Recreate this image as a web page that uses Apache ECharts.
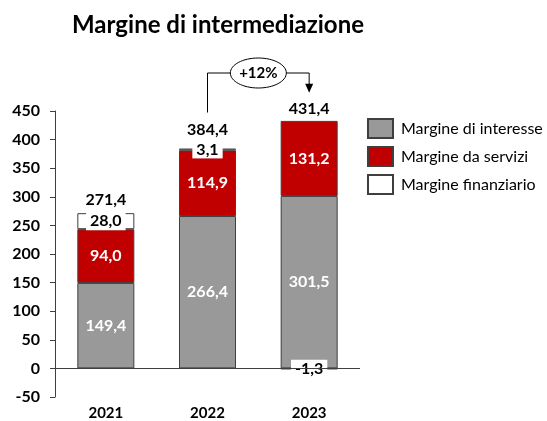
<!DOCTYPE html>
<html>
<head>
<meta charset="utf-8">
<script src="https://cdn.jsdelivr.net/npm/echarts@6/dist/echarts.min.js"></script>
<style>
  html, body { margin: 0; padding: 0; background: #fff; }
  #chart { width: 547px; height: 421px; }
</style>
</head>
<body>
<div id="chart"></div>
<script>
  // dati
  const years = ['2021', '2022', '2023']
  const interesse = [149.4, 266.4, 301.5]
  const servizi = [94.0, 114.9, 131.2]
  const finanziario = [28.0, 3.1, -1.3]
  const totali = [271.4, 384.4, 431.4]
  const crescita = '+12%'

  const fmt = v => v.toFixed(1).replace('.', ',')
  const font = 'Lato'
  const border = '#3f3f3f'

  const myChart = echarts.init(document.getElementById('chart'))

  const barLabel = {
    show: true,
    position: 'inside',
    formatter: p => fmt(p.value),
    color: '#fff',
    fontFamily: font,
    fontSize: 16,
    fontWeight: 'bold'
  }

  const option = {
    animation: false,
    textStyle: { fontFamily: font },
    title: {
      text: 'Margine di intermediazione',
      left: 213,
      textAlign: 'center',
      top: 8,
      textStyle: { fontFamily: font, fontSize: 24, fontWeight: 'bold', color: '#000' }
    },
    legend: {
      data: ['Margine di interesse', 'Margine da servizi', 'Margine finanziario'],
      orient: 'vertical',
      left: 367,
      top: 118,
      padding: 0,
      itemWidth: 25,
      itemHeight: 19,
      itemGap: 7,
      icon: 'rect',
      textStyle: { fontFamily: font, fontSize: 16, lineHeight: 19, color: '#000', padding: [0, 0, 0, 3] }
    },
    grid: { left: 55, right: 187, top: 111, bottom: 24, containLabel: false },
    xAxis: {
      type: 'category',
      data: years,
      axisLine: { show: false, onZero: false },
      axisTick: { show: false },
      axisLabel: { fontFamily: font, fontSize: 15, fontWeight: 'bold', color: '#000', margin: 9 }
    },
    yAxis: {
      type: 'value',
      min: -50,
      max: 450,
      interval: 50,
      splitLine: { show: false },
      axisLine: { show: true, lineStyle: { color: border, width: 1 } },
      axisTick: { show: true, length: 5, lineStyle: { color: border } },
      axisLabel: { fontFamily: font, fontSize: 16, fontWeight: 'bold', color: '#000', margin: 15 }
    },
    series: [
      {
        name: 'Margine di interesse',
        type: 'bar',
        stack: 'tot',
        barWidth: 57,
        barGap: '-100%',
        data: interesse,
        itemStyle: { color: '#999999', borderColor: border, borderWidth: 1 },
        label: barLabel,
        markLine: {
          silent: true,
          symbol: ['none', 'none'],
          label: { show: false },
          lineStyle: { color: border, width: 1, type: 'solid' },
          data: [{ yAxis: 0 }]
        }
      },
      {
        name: 'Margine da servizi',
        type: 'bar',
        stack: 'tot',
        barWidth: 57,
        data: servizi,
        itemStyle: { color: '#c00000', borderColor: border, borderWidth: 1 },
        label: barLabel
      },
      {
        name: 'Margine finanziario',
        type: 'bar',
        stack: 'tot',
        barWidth: 57,
        data: finanziario,
        itemStyle: { color: '#ffffff', borderColor: border, borderWidth: 1 },
        label: Object.assign({}, barLabel, {
          color: '#000',
          backgroundColor: '#fff',
          padding: [2, 4, 0, 4]
        })
      },
      {
        // solo etichette dei totali
        name: 'Totale',
        type: 'bar',
        barWidth: 57,
        barGap: '-100%',
        // il 2022 ha l'etichetta 3,1 subito sotto: totale un po' piu' alto
        data: totali.map((v, i) => i === 1 ? { value: v, label: { distance: 11 } } : v),
        silent: true,
        z: 1,
        itemStyle: { color: 'rgba(0,0,0,0)', borderWidth: 0 },
        label: {
          show: true,
          position: 'top',
          distance: 5,
          formatter: p => fmt(p.value),
          color: '#000',
          fontFamily: font,
          fontSize: 16,
          fontWeight: 'bold'
        }
      }
    ]
  }

  myChart.setOption(option)

  // freccia con la crescita 2022 -> 2023
  const x1 = myChart.convertToPixel({ xAxisIndex: 0 }, years[1])
  const x2 = myChart.convertToPixel({ xAxisIndex: 0 }, years[2])
  const yStart = myChart.convertToPixel({ yAxisIndex: 0 }, totali[1]) - 36
  const yTop = myChart.convertToPixel({ yAxisIndex: 0 }, 450) - 38
  const yEnd = myChart.convertToPixel({ yAxisIndex: 0 }, totali[2]) - 29
  const cx = (x1 + x2) / 2

  myChart.setOption({
    graphic: [
      {
        type: 'polyline',
        shape: { points: [[x1, yStart], [x1, yTop], [x2, yTop], [x2, yEnd - 7]] },
        style: { stroke: '#000', lineWidth: 1, fill: null }
      },
      {
        type: 'polygon',
        shape: { points: [[x2 - 4, yEnd - 9], [x2 + 4, yEnd - 9], [x2, yEnd]] },
        style: { fill: '#000' }
      },
      {
        type: 'ellipse',
        shape: { cx: cx, cy: yTop, rx: 28, ry: 15 },
        style: { fill: '#fff', stroke: '#000', lineWidth: 1 }
      },
      {
        type: 'text',
        x: cx,
        y: yTop,
        style: {
          text: crescita,
          align: 'center',
          verticalAlign: 'middle',
          font: 'bold 15px Lato',
          fill: '#000'
        }
      }
    ]
  })
</script>
</body>
</html>
